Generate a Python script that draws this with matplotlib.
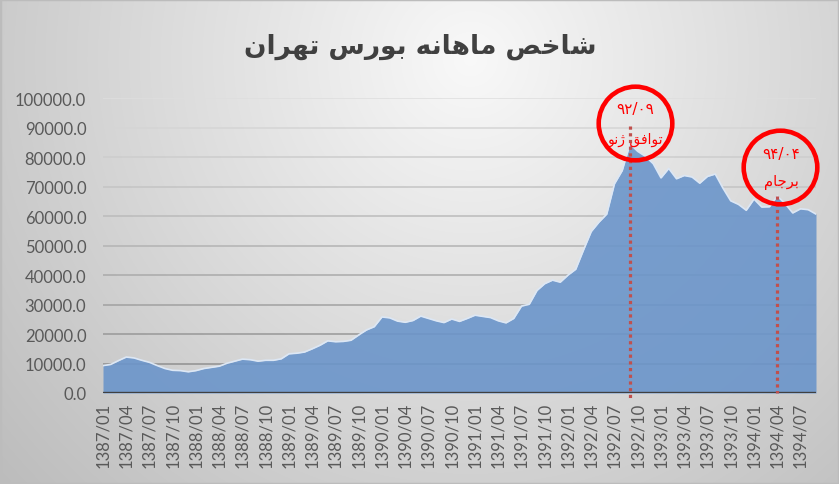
import numpy as np
import matplotlib
matplotlib.use("Agg")
import matplotlib.pyplot as plt

# ---------------- data ----------------
years = list(range(1387, 1395))
labels = [f"{y}/{m:02d}" for y in years for m in range(1, 13)][:93]
values = [9300, 9700, 11000, 12200, 11900, 11100, 10400, 9300, 8300, 7700,
          7600, 7200, 7600, 8300, 8700, 9100, 10100, 10800, 11500, 11300,
          10800, 11100, 11100, 11600, 13300, 13500, 13900, 15000, 16200, 17700,
          17400, 17500, 17900, 19700, 21400, 22500, 25800, 25500, 24400, 24000,
          24600, 26100, 25300, 24500, 23900, 25100, 24300, 25300, 26400, 26000,
          25600, 24500, 23800, 25300, 29500, 30100, 34800, 37100, 38300, 37600,
          40000, 42000, 48500, 54800, 58000, 60700, 71000, 75500, 84500, 82000,
          80300, 77800, 73000, 76200, 72700, 73800, 73300, 71200, 73500, 74300,
          69500, 65200, 64000, 62000, 65800, 63100, 63200, 66800, 64300, 61100,
          62500, 62200, 60700]
yticks = list(range(0, 100001, 10000))
title = "شاخص ماهانه بورس تهران"
event1_date, event1_label, event1_name = "1392/09", "۹۲/۰۹", "توافق ژنو"
event2_date, event2_label, event2_name = "1394/04", "۹۴/۰۴", "برجام"

# ------------- simple Arabic/Persian shaping -------------
FORMS = {
    'ا': ('ا', '\uFE8E', None, None),
    'ب': ('ب', '\uFE90', '\uFE91', '\uFE92'),
    'ت': ('ت', '\uFE96', '\uFE97', '\uFE98'),
    'ج': ('ج', '\uFE9E', '\uFE9F', '\uFEA0'),
    'خ': ('خ', '\uFEA6', '\uFEA7', '\uFEA8'),
    'ر': ('ر', '\uFEAE', None, None),
    'ژ': ('ژ', '\uFB8B', None, None),
    'س': ('س', '\uFEB2', '\uFEB3', '\uFEB4'),
    'ش': ('ش', '\uFEB6', '\uFEB7', '\uFEB8'),
    'ص': ('ص', '\uFEBA', '\uFEBB', '\uFEBC'),
    'ف': ('ف', '\uFED2', '\uFED3', '\uFED4'),
    'ق': ('ق', '\uFED6', '\uFED7', '\uFED8'),
    'م': ('م', '\uFEE2', '\uFEE3', '\uFEE4'),
    'ن': ('ن', '\uFEE6', '\uFEE7', '\uFEE8'),
    'ه': ('ه', '\uFEEA', '\uFEEB', '\uFEEC'),
    'و': ('و', '\uFEEE', None, None),
}


def shape(text):
    out = []
    n = len(text)
    for i, c in enumerate(text):
        if c not in FORMS:
            out.append(c)
            continue
        f = FORMS[c]
        prev = text[i - 1] if i > 0 else None
        nxt = text[i + 1] if i < n - 1 else None
        pj = prev in FORMS and FORMS[prev][2] is not None
        nj = nxt in FORMS and f[2] is not None
        if pj and nj:
            out.append(f[3])
        elif pj:
            out.append(f[1])
        elif nj:
            out.append(f[2])
        else:
            out.append(f[0])
    return "".join(out)[::-1]


# ---------------- figure ----------------
W, H = 839, 485
fig = plt.figure(figsize=(W / 100, H / 100), dpi=100)

# background radial gradient
bg = fig.add_axes([0, 0, 1, 1], zorder=-10)
yy, xx = np.mgrid[0:H, 0:W]
r = np.sqrt(((xx - 470) / 560.0) ** 2 + ((yy - 60) / 560.0) ** 2)
val = 0.975 - 0.21 * np.clip(r, 0, 1.15)
img = np.dstack([val, val, val])
bg.imshow(np.clip(img, 0, 1), extent=[0, 1, 0, 1], aspect='auto', origin='upper')
bg.set_xlim(0, 1)
bg.set_ylim(0, 1)
bg.axis('off')
bg.add_patch(plt.Rectangle((0, 0), 1, 1, transform=bg.transAxes, fill=False,
                           edgecolor='#bcbcbc', lw=2.5))

ax = fig.add_axes([103 / W, 1 - 394 / H, (816 - 103) / W, (394 - 99.3) / H])
ax.set_facecolor('none')
x = np.arange(len(values))

# gridlines with vertical gradient of color
for v in yticks[1:]:
    t = v / 100000.0
    g = 0.53 + 0.34 * t
    ax.axhline(v, color=(g, g, g), lw=1.1, zorder=1)

ax.fill_between(x, values, 0, color='#6b95ca', alpha=0.9, lw=0, zorder=2)
ax.plot(x, values, color='#dce7f5', lw=1.2, zorder=3)
ax.axhline(0, color='#404040', lw=2.4, zorder=4)

ax.set_xlim(0, len(values) - 1)
ax.set_ylim(0, 100000)
ax.set_yticks(yticks)
ax.set_yticklabels([f"{v:.1f}" for v in yticks])
ax.set_xticks(x[::3])
ax.set_xticklabels(labels[::3], rotation=90)
ax.tick_params(axis='both', length=0, labelcolor='#595959', labelsize=12)
ax.tick_params(axis='y', pad=12)
ax.tick_params(axis='x', pad=6)
for lab in ax.get_xticklabels() + ax.get_yticklabels():
    lab.set_fontfamily('Lato')
for s in ax.spines.values():
    s.set_visible(False)

# events
e1 = labels.index(event1_date)
e2 = labels.index(event2_date)
ax.plot([e1, e1], [90600, -2000], color='#c0504d', lw=2.3, ls=(0, (1, 1.1)),
        zorder=5, clip_on=False)
ax.plot([e2, e2], [values[e2], 0], color='#c0504d', lw=2.3, ls=(0, (1, 1.1)),
        zorder=5, clip_on=False)

ax.plot([e1 + 0.6], [91500], marker='o', ms=53, mfc='none', mec='#ff0000',
        mew=3.3, zorder=6, clip_on=False)
ax.plot([e2 + 0.3], [76700], marker='o', ms=53, mfc='none', mec='#ff0000',
        mew=3.3, zorder=6, clip_on=False)

tk = dict(color='#ff0000', ha='center', va='center',
          family=['DejaVu Sans'], zorder=7)
ax.text(e1 + 0.7, 96400, event1_label, fontsize=11, **tk)
ax.text(e1 + 0.7, 86200, shape(event1_name), fontsize=10, **tk)
ax.text(e2 + 0.5, 81100, event2_label, fontsize=11, **tk)
ax.text(e2 + 0.5, 71600, shape(event2_name), fontsize=10.5, **tk)

fig.text(420 / W, 1 - 47 / H, shape(title), ha='center', va='center',
         fontsize=19, fontweight='bold', color='#404040',
         family=['DejaVu Sans'])

fig.savefig("out.png", dpi=100)
